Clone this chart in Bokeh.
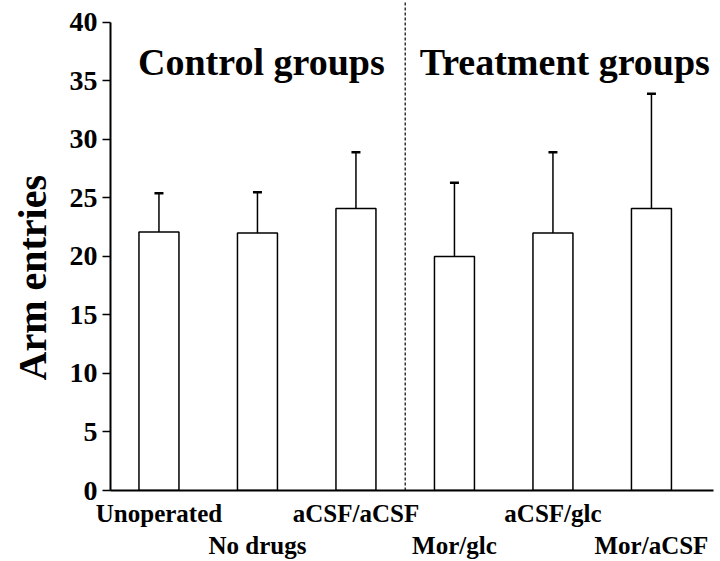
from bokeh.plotting import figure
from bokeh.models import Range1d, FixedTicker, ColumnDataSource, Title
from bokeh.embed import file_html
from bokeh.resources import INLINE
from bokeh.core.properties import value

# ---- data ----
groups = ["Unoperated", "No drugs", "aCSF/aCSF", "Mor/glc", "aCSF/glc", "Mor/aCSF"]
positions = [1, 2, 3, 4, 5, 6]
means = [22.1, 22.0, 24.1, 20.0, 22.0, 24.1]
errors = [3.3, 3.5, 4.8, 6.3, 6.9, 9.8]
y_ticks = [0, 5, 10, 15, 20, 25, 30, 35, 40]
section_titles = ["Control groups", "Treatment groups"]
section_x = [2.04, 5.12]
section_y = [36.6, 36.6]
divider_x = 3.5

FONT = "Liberation Serif"
Y_TOP = 41.88

tops = [m + e for m, e in zip(means, errors)]
src = ColumnDataSource(dict(x=positions, mean=means, top=tops))

p = figure(width=720, height=561, output_backend="svg", toolbar_location=None,
           x_range=Range1d(0.508, 6.63), y_range=Range1d(0, Y_TOP),
           min_border_left=110, min_border_right=7, min_border_top=0,
           min_border_bottom=71)
p.outline_line_color = None
p.grid.visible = False
p.background_fill_color = "white"

# bars
p.vbar(x="x", top="mean", bottom=0, width=0.406, source=src,
       fill_color="white", line_color="black", line_width=1.5)
# error bars
p.segment(x0="x", y0="mean", x1="x", y1="top", source=src,
          line_color="black", line_width=1.5)
p.scatter(x="x", y="top", source=src, marker="dash", size=9,
          line_color="black", line_width=2.5)

# divider
p.segment(x0=[divider_x], y0=[0], x1=[divider_x], y1=[Y_TOP],
          line_color="black", line_width=1.2, line_dash="3 2")

# section titles
p.text(x=section_x, y=section_y, text=section_titles,
       text_font=value(FONT), text_font_style="bold", text_font_size="38px",
       text_align="center", text_baseline="alphabetic", text_color="black")

# y axis
ya = p.yaxis[0]
ya.bounds = (0, 40)
ya.ticker = FixedTicker(ticks=y_ticks)
ya.minor_tick_line_color = None
ya.major_tick_in = 0
ya.major_tick_out = 8
ya.major_tick_line_width = 1.5
ya.axis_line_width = 2
ya.major_label_standoff = 5
ya.major_label_text_font = FONT
ya.major_label_text_font_style = "bold"
ya.major_label_text_font_size = "28px"
ya.major_label_text_color = "black"

# y axis title as a side title (allows shifting along the axis)
p.add_layout(Title(text="Arm entries", align="left", offset=110,
                   vertical_align="top", text_line_height=0.6,
                   text_font=FONT, text_font_style="bold", text_font_size="40px",
                   text_color="black", standoff=19), "left")

# x axis
xa = p.xaxis[0]
xa.ticker = FixedTicker(ticks=positions)
xa.major_label_overrides = {
    pos: (name if i % 2 == 0 else " \n" + name)
    for i, (pos, name) in enumerate(zip(positions, groups))
}
xa.minor_tick_line_color = None
xa.major_tick_line_color = None
xa.major_tick_in = 0
xa.major_tick_out = 0
xa.axis_line_width = 2
xa.major_label_standoff = 9
xa.major_label_text_font = FONT
xa.major_label_text_font_style = "bold"
xa.major_label_text_font_size = "25px"
xa.major_label_text_color = "black"

open("out.html", "w").write(file_html(p, INLINE))
